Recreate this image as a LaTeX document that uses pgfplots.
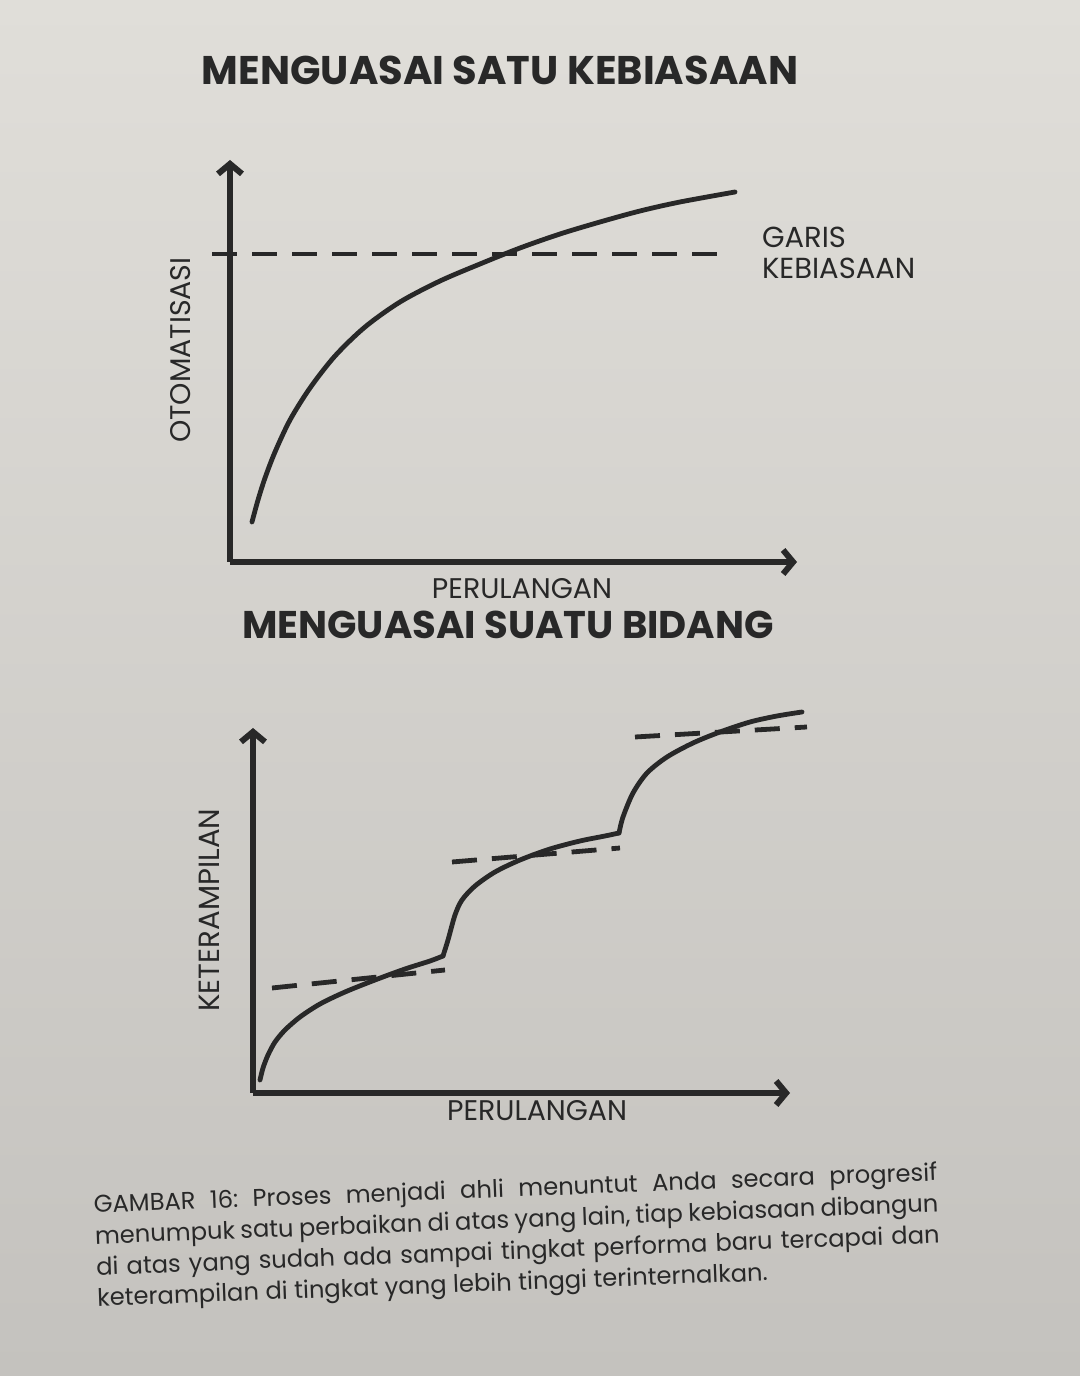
\documentclass[border=0pt]{standalone}
\usepackage{pgfplots}
\pgfplotsset{compat=1.18}
\usetikzlibrary{arrows.meta}
\usepackage{fontspec}
\setmainfont{Poppins}
\definecolor{paperT}{RGB}{224,222,217}
\definecolor{paperB}{RGB}{196,194,190}
\definecolor{ink}{RGB}{40,40,40}
\begin{document}
\frenchspacing
\begin{tikzpicture}
\shade[top color=paperT, bottom color=paperB] (0,0) rectangle (540pt,688pt);
\pgfplotsset{
  sketch/.style={
    x=0.5pt, y=0.5pt, clip=false,
    axis lines=left,
    axis line style={ink, line width=3pt, -{Straight Barb[length=5pt,width=12pt,line width=3pt]}},
    xtick=\empty, ytick=\empty,
  },
  curve/.style={ink, line width=2.4pt, smooth, line cap=round, line join=round},
  habit/.style={ink, line width=2.4pt, dash pattern=on 12.5pt off 7.5pt},
}
% ---------------- top chart ----------------
\node[font=\bfseries\fontsize{20}{20}\selectfont, text=ink] at (250pt,653pt) {MENGUASAI SATU KEBIASAAN};
\begin{axis}[sketch, at={(115pt,407pt)}, anchor=south west,
  xmin=230, xmax=797, ymin=814, ymax=1216,
  xlabel={PERULANGAN}, ylabel={OTOMATISASI},
  every axis x label/.style={at={(axis description cs:0.515,-0.065)}, anchor=center, font=\fontsize{14.2}{15}\selectfont, text=ink},
  every axis y label/.style={at={(axis description cs:-0.088,0.527)}, anchor=center, rotate=90, font=\fontsize{14.2}{15}\selectfont, text=ink},
]
\addplot[curve] coordinates {
(252,854) (258,876) (265,898) (275,924) (290,956) (310,988) (335,1020)
(365,1049) (400,1074) (440,1095) (480,1112) (520,1128) (560,1142)
(600,1154) (640,1165) (680,1174) (735,1184)};
\addplot[habit] coordinates {(212,1122) (727,1122)};
\node[anchor=west, text=ink, font=\fontsize{14.5}{15}\selectfont] at (axis cs:755,1139) {GARIS};
\node[anchor=west, text=ink, font=\fontsize{14.5}{15}\selectfont] at (axis cs:755,1108) {KEBIASAAN};
\end{axis}
% ---------------- bottom chart ----------------
\node[font=\bfseries\fontsize{19.3}{20}\selectfont, text=ink] at (254pt,375.5pt) {MENGUASAI SUATU BIDANG};
\begin{axis}[sketch, at={(126.5pt,141.5pt)}, anchor=south west,
  xmin=253, xmax=790, ymin=283, ymax=648,
  xlabel={PERULANGAN}, ylabel={KETERAMPILAN},
  every axis x label/.style={at={(axis description cs:0.529,-0.047)}, anchor=center, font=\fontsize{14.2}{15}\selectfont, text=ink},
  every axis y label/.style={at={(axis description cs:-0.082,0.501)}, anchor=center, rotate=90, font=\fontsize{14.6}{15}\selectfont, text=ink},
]
\addplot[curve] coordinates {
(260,296) (263,308) (268,321) (275,334) (285,346) (300,359) (320,372)
(345,384) (375,396) (405,407) (430,415) (443,420)};
\addplot[curve] coordinates {
(443,420) (448,436) (455,461) (462,476) (475,490) (495,504) (520,516)
(550,527) (580,535) (605,540) (619,543)};
\addplot[curve] coordinates {
(619,543) (623,559) (633,583) (647,603) (667,619) (693,633) (720,644)
(750,654) (777,660) (802,664)};
\addplot[habit] coordinates {(272,388) (445,406)};
\addplot[habit] coordinates {(452,514) (620,528)};
\addplot[habit] coordinates {(635,639) (807,649)};
\end{axis}
% ---------------- caption ----------------
\node[anchor=north west, inner sep=0pt, rotate=2.2, text=ink] at (46.5pt,91pt) {%
\parbox{422pt}{\fontsize{12.1}{15.6}\selectfont
GAMBAR 16: Proses menjadi ahli menuntut Anda secara progresif\linebreak
menumpuk satu perbaikan di atas yang lain, tiap kebiasaan dibangun\linebreak
di atas yang sudah ada sampai tingkat performa baru tercapai dan\linebreak
keterampilan di tingkat yang lebih tinggi terinternalkan.}};
\pgfresetboundingbox
\path[use as bounding box] (0,0) rectangle (540pt,688pt);
\end{tikzpicture}
\end{document}
